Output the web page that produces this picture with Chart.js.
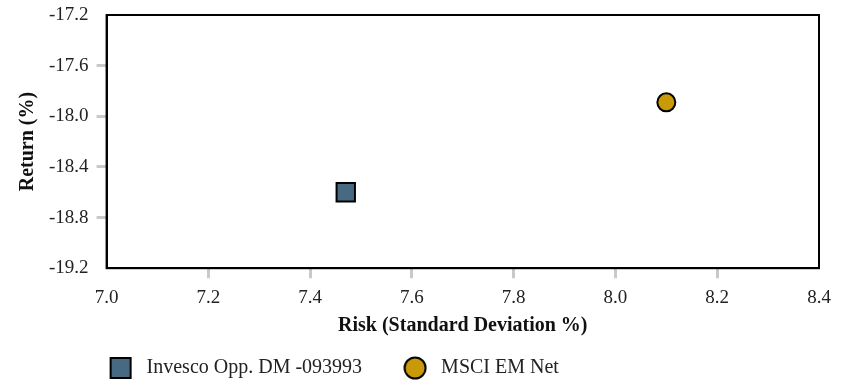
<!DOCTYPE html>
<html>
<head>
<meta charset="utf-8">
<script src="https://cdn.jsdelivr.net/npm/chart.js@4"></script>
<style>
  html, body { margin: 0; padding: 0; background: #fff; }
  #wrap { width: 853px; height: 380px; }
</style>
</head>
<body>
<div id="wrap"><canvas id="riskChart"></canvas></div>
<script>
// values
const seriesNames = ["Invesco Opp. DM -093993", "MSCI EM Net"];
const riskValues = [7.47, 8.10];
const returnValues = [-18.6, -17.89];
const seriesColours = ["#476a82", "#c99a08"];
const seriesShapes = ["rect", "circle"];
const xTicks = [7.0, 7.2, 7.4, 7.6, 7.8, 8.0, 8.2, 8.4];
const yTicks = [-19.2, -18.8, -18.4, -18.0, -17.6, -17.2];

const serif = "'Liberation Serif', 'DejaVu Serif', serif";
const legendPad = 37;

// small legend swatch, same size for square and circle
function swatch(shape, fill) {
  const c = document.createElement("canvas");
  c.width = 24;
  c.height = 24;
  const g = c.getContext("2d");
  g.fillStyle = fill;
  g.strokeStyle = "#000";
  g.lineWidth = 2;
  g.beginPath();
  if (shape === "circle") g.arc(12, 12, 10.5, 0, Math.PI * 2);
  else g.rect(2, 2, 20, 20);
  g.fill();
  g.stroke();
  return c;
}

// frame round the plot area, and legend placed under the left of the plot
const frame = {
  id: "frame",
  afterLayout(chart) {
    const lg = chart.legend;
    const dx = chart.chartArea.left - 2 - legendPad - lg.left;
    lg.left += dx;
    lg.right += dx;
    lg.top -= 15;
    lg.bottom -= 15;
  },
  afterDatasetsDraw(chart) {
    const a = chart.chartArea;
    const ctx = chart.ctx;
    ctx.save();
    ctx.strokeStyle = "#000";
    ctx.lineWidth = 2;
    ctx.strokeRect(a.left, a.top, a.right - a.left, a.bottom - a.top);
    ctx.restore();
  },
};

function tickColour(c) {
  // no tick marks at the ends of an axis
  if (c.index === 0 || c.index === c.scale.ticks.length - 1) return "rgba(0,0,0,0)";
  return "#c9c9c9";
}

const datasets = seriesNames.map((name, i) => ({
  label: name,
  data: [{ x: riskValues[i], y: returnValues[i] }],
  pointStyle: seriesShapes[i],
  pointRadius: seriesShapes[i] === "rect" ? 13 : 9,
  pointHoverRadius: seriesShapes[i] === "rect" ? 13 : 9,
  backgroundColor: seriesColours[i],
  borderColor: "#000",
  borderWidth: 2,
}));

const ctx = document.getElementById("riskChart").getContext("2d");
const chart = new Chart(ctx, {
  type: "scatter",
  data: { datasets: datasets },
  options: {
    responsive: true,
    maintainAspectRatio: false,
    animation: false,
    layout: { padding: { left: 16, right: 34, top: 14, bottom: -23 } },
    scales: {
      x: {
        type: "linear",
        min: xTicks[0],
        max: xTicks[xTicks.length - 1],
        afterBuildTicks: (s) => { s.ticks = xTicks.map((v) => ({ value: v })); },
        ticks: {
          callback: (v) => Number(v).toFixed(1),
          font: { family: serif, size: 19 },
          color: "#222",
          padding: 8,
        },
        grid: {
          drawOnChartArea: false,
          tickLength: 10,
          tickWidth: 3,
          tickColor: tickColour,
        },
        border: { display: true, color: "#000", width: 2 },
        title: {
          display: true,
          text: "Risk (Standard Deviation %)",
          font: { family: serif, size: 20, weight: "bold", lineHeight: 1 },
          color: "#111",
          padding: { top: -1, bottom: 0 },
        },
      },
      y: {
        type: "linear",
        min: yTicks[0],
        max: yTicks[yTicks.length - 1],
        afterBuildTicks: (s) => { s.ticks = yTicks.map((v) => ({ value: v })); },
        // top label may overhang into the layout padding
        afterFit: (s) => { s.paddingTop = 0; s.paddingBottom = 0; },
        ticks: {
          callback: (v) => Number(v).toFixed(1),
          font: { family: serif, size: 19 },
          color: "#222",
          padding: 8,
        },
        grid: {
          drawOnChartArea: false,
          tickLength: 10,
          tickWidth: 3,
          tickColor: tickColour,
        },
        border: { display: true, color: "#000", width: 2 },
        title: {
          display: true,
          text: "Return (%)",
          font: { family: serif, size: 20, weight: "bold" },
          color: "#111",
          padding: { top: 0, bottom: 1 },
        },
      },
    },
    plugins: {
      legend: {
        position: "bottom",
        align: "start",
        fullSize: false,
        labels: {
          usePointStyle: true,
          pointStyleWidth: 32,
          font: { family: serif, size: 20 },
          color: "#222",
          padding: legendPad,
          generateLabels: (c) =>
            Chart.defaults.plugins.legend.labels.generateLabels(c).map((item, i) => {
              item.pointStyle = swatch(seriesShapes[i], seriesColours[i]);
              return item;
            }),
        },
      },
      tooltip: { enabled: false },
    },
  },
  plugins: [frame],
});
</script>
</body>
</html>
